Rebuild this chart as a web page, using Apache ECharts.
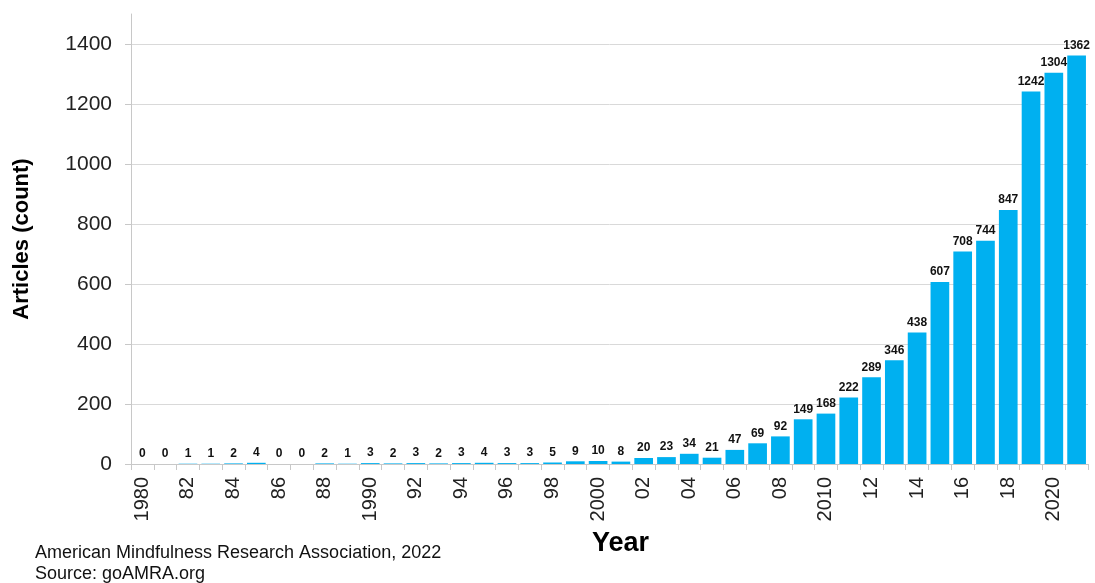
<!DOCTYPE html>
<html><head><meta charset="utf-8">
<script src="https://cdn.jsdelivr.net/npm/echarts@6/dist/echarts.min.js"></script>
<style>html,body{margin:0;padding:0;background:#fff}#c{width:1095px;height:583px}</style>
</head><body><div id="c"></div>
<script>
const years = ['1980','1981','1982','1983','1984','1985','1986','1987','1988','1989','1990','1991','1992','1993','1994','1995','1996','1997','1998','1999','2000','2001','2002','2003','2004','2005','2006','2007','2008','2009','2010','2011','2012','2013','2014','2015','2016','2017','2018','2019','2020','2021'];
const tickLabels = ['1980','','82','','84','','86','','88','','1990','','92','','94','','96','','98','','2000','','02','','04','','06','','08','','2010','','12','','14','','16','','18','','2020',''];
const articles = [0,0,1,1,2,4,0,0,2,1,3,2,3,2,3,4,3,3,5,9,10,8,20,23,34,21,47,69,92,149,168,222,289,346,438,607,708,744,847,1242,1304,1362];
const yTicks = [0,200,400,600,800,1000,1200,1400];

const chart = echarts.init(document.getElementById('c'));
chart.setOption({
  animation:false,
  grid:{left:131,right:7,top:14,bottom:119},
  xAxis:{
    type:'category', data:years,
    name:'Year', nameLocation:'middle', nameGap:66,
    nameTextStyle:{fontFamily:'Liberation Sans',fontSize:27,fontWeight:'bold',color:'#000',padding:[0,0,0,22]},
    axisLine:{lineStyle:{color:'#c8c8c8'}},
    axisTick:{show:true,alignWithLabel:false,interval:0,length:6,lineStyle:{color:'#c8c8c8'}},
    axisLabel:{interval:0,rotate:90,fontFamily:'Liberation Sans',fontSize:20,color:'#222',margin:13,
      formatter:(v,i)=>tickLabels[i]}
  },
  yAxis:{
    type:'value', min:0, max:1500, interval:200,
    name:'Articles (count)', nameLocation:'middle', nameGap:98, nameRotate:90,
    nameTextStyle:{fontFamily:'Liberation Sans',fontSize:22,fontWeight:'bold',color:'#000'},
    axisLine:{show:true,lineStyle:{color:'#c8c8c8'}},
    axisTick:{show:true,length:6,lineStyle:{color:'#c8c8c8'}},
    splitLine:{show:true,showMaxLine:false,lineStyle:{color:'#d9d9d9'}},
    axisLabel:{showMaxLabel:false,fontFamily:'Liberation Sans',fontSize:21,color:'#222',margin:19,
      formatter:v=>yTicks.includes(v)?String(v):''}
  },
  series:[{
    type:'bar', data:articles, barCategoryGap:'18%',
    itemStyle:{color:'#00b0f0'},
    label:{show:true,position:'top',distance:4,fontFamily:'Liberation Sans',fontSize:12,fontWeight:'bold',color:'#111'}
  }],
  graphic:[
    {type:'text',left:35,top:544,style:{text:'American Mindfulness Research Association, 2022',font:'18px "Liberation Sans"',fill:'#111'}},
    {type:'text',left:35,top:565,style:{text:'Source: goAMRA.org',font:'18px "Liberation Sans"',fill:'#111'}}
  ]
});
</script></body></html>
